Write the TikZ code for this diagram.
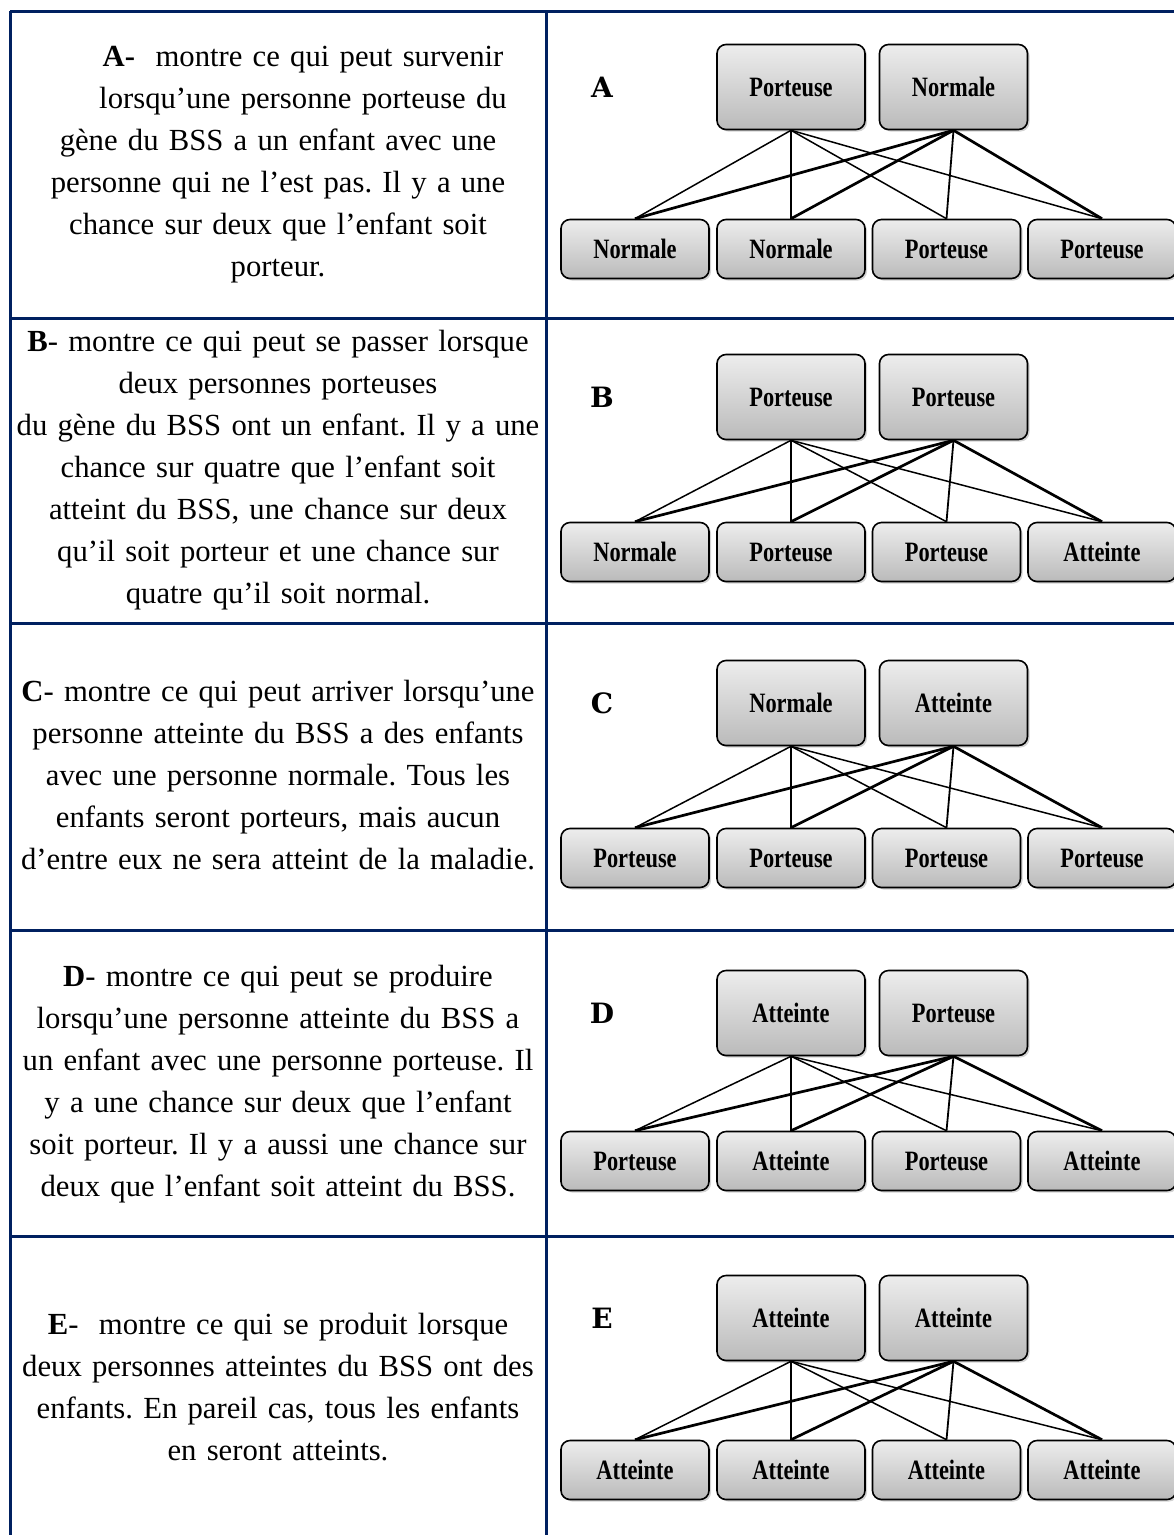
\documentclass[tikz,border=0pt]{standalone}
\usepackage{fontspec}
\setmainfont{Liberation Serif}
\newfontfamily\boxfont[FakeStretch=0.8]{Liberation Serif}
\newfontfamily\rowfont{DejaVu Serif}
\usetikzlibrary{shadows}
\definecolor{navy}{RGB}{0,32,96}
\tikzset{
cadre/.style={draw=navy, line width=3pt},
parent/.style={draw, line width=1.6pt, rounded corners=9pt, top color=black!7, bottom color=black!27,
  minimum width=148pt, minimum height=85pt, inner sep=0pt,
  font=\boxfont\bfseries\fontsize{28}{32}\selectfont,
  drop shadow={shadow xshift=2pt, shadow yshift=-2pt, opacity=0.35}},
enfant/.style={parent, minimum height=59pt},
lettre/.style={font=\rowfont\bfseries\fontsize{28}{32}\selectfont},
lien/.style={draw, line width=1.5pt},
lien fort/.style={draw, line width=2.7pt},
texte/.style={text width=540pt, align=center, anchor=base, inner sep=0pt,
  font=\frenchspacing\fontsize{30.7}{42}\selectfont},
}
% #1 ligne, #2 y des parents, #3 y des enfants, #4-#5 parents, #6-#9 enfants
\newcommand{\croisement}[9]{%
  \node[lettre] (#1-l) at (602,#2) {#1};
  \node[parent] (#1-p1) at (791,#2) {#4};
  \node[parent] (#1-p2) at (953.5,#2) {#5};
  \node[enfant] (#1-e1) at (635,#3) {#6};
  \node[enfant] (#1-e2) at (791,#3) {#7};
  \node[enfant] (#1-e3) at (946.5,#3) {#8};
  \node[enfant] (#1-e4) at (1102,#3) {#9};
  \draw[lien] (#1-p1.south) -- (#1-e1.north);
  \draw[lien] (#1-p1.south) -- (#1-e2.north);
  \draw[lien] (#1-p1.south) -- (#1-e3.north);
  \draw[lien] (#1-p1.south) -- (#1-e4.north);
  \draw[lien fort] (#1-p2.south) -- (#1-e1.north);
  \draw[lien fort] (#1-p2.south) -- (#1-e2.north);
  \draw[lien, line width=1.8pt] (#1-p2.south) -- (#1-e3.north);
  \draw[lien fort] (#1-p2.south) -- (#1-e4.north);
}

\begin{document}
\begin{tikzpicture}[x=1pt, y=-1pt]
\useasboundingbox (0,0) rectangle (1174,1535);
\clip (0,0) rectangle (1174,1535);

% tableau
\draw[cadre] (10,11) -- (1200,11);
\draw[cadre] (10,11) -- (10,1560);
\draw[cadre] (546,11) -- (546,1560);
\draw[cadre] (10,318) -- (1200,318);
\draw[cadre] (10,623) -- (1200,623);
\draw[cadre] (10,930) -- (1200,930);
\draw[cadre] (10,1236) -- (1200,1236);

% textes
\node[texte] (tA) at (278,66) {\hspace*{50pt}\textbf{A-}\ \ montre ce qui peut survenir\\
\hspace*{50pt}lorsqu’une personne porteuse du\\
gène du BSS a un enfant avec une\\
personne qui ne l’est pas. Il y a une\\
chance sur deux que l’enfant soit\\
porteur.};
\node[texte] (tB) at (278,351) {\textbf{B}- montre ce qui peut se passer lorsque\\
deux personnes porteuses\\
du gène du BSS ont un enfant. Il y a une\\
chance sur quatre que l’enfant soit\\
atteint du BSS, une chance sur deux\\
qu’il soit porteur et une chance sur\\
quatre qu’il soit normal.};
\node[texte] (tC) at (278,701) {\textbf{C}- montre ce qui peut arriver lorsqu’une\\
personne atteinte du BSS a des enfants\\
avec une personne normale. Tous les\\
enfants seront porteurs, mais aucun\\
d’entre eux ne sera atteint de la maladie.};
\node[texte] (tD) at (278,986) {\textbf{D}- montre ce qui peut se produire\\
lorsqu’une personne atteinte du BSS a\\
un enfant avec une personne porteuse. Il\\
y a une chance sur deux que l’enfant\\
soit porteur. Il y a aussi une chance sur\\
deux que l’enfant soit atteint du BSS.};
\node[texte] (tE) at (278,1334) {\textbf{E}-\ \ montre ce qui se produit lorsque\\
deux personnes atteintes du BSS ont des\\
enfants. En pareil cas, tous les enfants\\
en seront atteints.};

% croisements
\croisement{A}{87}{249}{Porteuse}{Normale}{Normale}{Normale}{Porteuse}{Porteuse}
\croisement{B}{397}{552}{Porteuse}{Porteuse}{Normale}{Porteuse}{Porteuse}{Atteinte}
\croisement{C}{703}{858}{Normale}{Atteinte}{Porteuse}{Porteuse}{Porteuse}{Porteuse}
\croisement{D}{1013}{1161}{Atteinte}{Porteuse}{Porteuse}{Atteinte}{Porteuse}{Atteinte}
\croisement{E}{1318}{1470}{Atteinte}{Atteinte}{Atteinte}{Atteinte}{Atteinte}{Atteinte}
\end{tikzpicture}
\end{document}
